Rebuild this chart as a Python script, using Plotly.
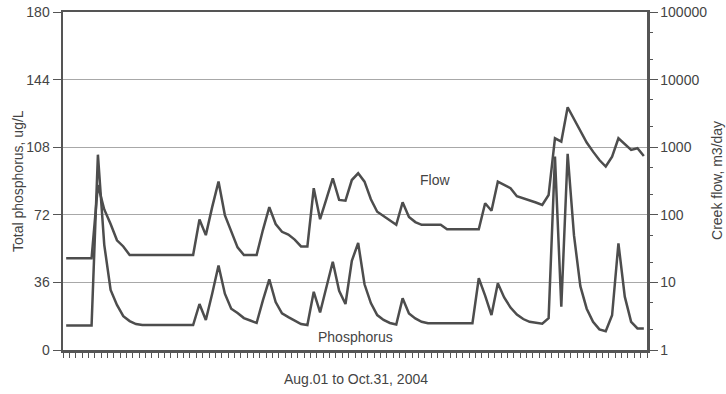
import plotly.graph_objects as go

# ---- data (daily, Aug 01 .. Oct 31, 2004) ----
days = list(range(92))

phosphorus = [
    13, 13, 13, 13, 13, 104, 56, 32, 24, 18,
    15.4, 13.8, 13.3, 13.3, 13.3, 13.3, 13.3, 13.3, 13.3, 13.3,
    13.3, 24.5, 16, 30, 45, 30, 22, 19.7, 17, 15.7,
    14.4, 26.6, 37.6, 25.5, 19.5, 17.5, 15.5, 13.8, 13.3, 31,
    20, 33, 47, 31.5, 24.5, 47.5, 57, 35, 25, 18.6,
    16, 14.4, 13.6, 27.5, 19.5, 16.8, 15, 14.2, 14.2, 14.2,
    14.2, 14.2, 14.2, 14.2, 14.2, 38.2, 29, 18.6, 35.5, 28,
    22.6, 18.9, 16.5, 15, 14.4, 14, 16.9, 103, 23, 104.5,
    61, 34, 22, 15, 11, 10, 18.5, 56.8, 28.4, 15,
    11.5, 11.5,
]

flow = [
    22.7, 22.7, 22.7, 22.7, 22.7, 275, 120, 73, 42, 34,
    25.4, 25.4, 25.4, 25.4, 25.4, 25.4, 25.4, 25.4, 25.4, 25.4,
    25.4, 85, 50, 130, 310, 99, 56, 33, 25.4, 25.4,
    25.4, 60, 130, 73, 56, 51, 43, 34, 34, 247,
    86, 172, 347, 166, 162, 327, 411, 309, 170, 111,
    96, 84, 71, 153, 93, 78, 71, 71, 71, 71,
    61, 61, 61, 61, 61, 61, 148, 115, 309, 273,
    247, 188, 175, 166, 152, 140, 196, 1355, 1210, 3900,
    2614, 1740, 1174, 860, 646, 518, 726, 1355, 1097, 910,
    965, 742,
]

left_ticks = [0, 36, 72, 108, 144, 180]
right_tickvals = [1, 10, 100, 1000, 10000, 100000]
right_ticktext = ["1", "10", "100", "1000", "10000", "100000"]

x_title = "Aug.01 to Oct.31, 2004"
left_title = "Total phosphorus, ug/L"
right_title = "Creek flow, m3/day"

# ---- layout (screen pixels; body margin removed after plotting) ----
W, H = 726, 394
L, R, T, B = 62.5, 647, 12, 350
FONT = "Arial, Liberation Sans, sans-serif"
LINE = "#4d4d4d"
AX = "#555555"
TXT = "#444444"


def px(xs):
    return (xs - L) / (R - L)


def py(ys):
    return (B - ys) / (B - T)


def label(text, xs, ys, angle=0):
    return dict(text=text, x=px(xs), y=py(ys), xref="paper", yref="paper",
                xanchor="center", yanchor="middle", showarrow=False,
                textangle=angle, font=dict(size=14, color=TXT))


fig = go.Figure()
fig.add_trace(go.Scatter(x=days, y=flow, yaxis="y2", mode="lines",
                         line=dict(color=LINE, width=2.5), name="Flow",
                         showlegend=False))
fig.add_trace(go.Scatter(x=days, y=phosphorus, yaxis="y", mode="lines",
                         line=dict(color=LINE, width=2.5), name="Phosphorus",
                         showlegend=False))

fig.update_layout(
    width=W, height=H,
    margin=dict(l=L, r=W - R, t=T, b=H - B, pad=0, autoexpand=False),
    paper_bgcolor="white", plot_bgcolor="white",
    font=dict(family=FONT, size=14, color=TXT),
    xaxis=dict(
        range=[-0.5, 91.5],
        tickmode="array",
        tickvals=[i - 0.5 for i in range(93)],
        showticklabels=False,
        ticks="outside", ticklen=5, tickwidth=1, tickcolor=AX,
        showline=True, linecolor=AX, linewidth=2.5, mirror=True,
        showgrid=False, zeroline=False, automargin=False,
    ),
    yaxis=dict(
        range=[0, 180],
        tickmode="array", tickvals=left_ticks,
        ticks="outside", ticklen=8, tickwidth=1, tickcolor=AX,
        showline=True, linecolor=AX, linewidth=2.5,
        showgrid=True, gridcolor="#a8a8a8", gridwidth=1,
        zeroline=False, automargin=False, ticklabeloverflow="allow",
        tickfont=dict(size=14, color=TXT),
    ),
    yaxis2=dict(
        type="log", range=[0, 5], overlaying="y", side="right",
        tickmode="array", tickvals=right_tickvals, ticktext=right_ticktext,
        ticks="outside", ticklen=8, tickwidth=1, tickcolor=AX,
        minor=dict(ticks="outside", ticklen=3, tickcolor=AX, showgrid=False),
        showline=True, linecolor=AX, linewidth=2.5,
        showgrid=False, zeroline=False, automargin=False,
        ticklabeloverflow="allow",
        tickfont=dict(size=14, color=TXT),
    ),
    annotations=[
        label(x_title, 356, 379),
        label(left_title, 17.5, 181, -90),
        label(right_title, 717, 180, -90),
        label("Flow", 435, 180),
        label("Phosphorus", 355, 337),
    ],
)

fig.write_html(
    "out.html",
    config={"displayModeBar": False, "staticPlot": True},
    post_script="document.body.style.margin='0';document.body.style.overflow='hidden';",
)
